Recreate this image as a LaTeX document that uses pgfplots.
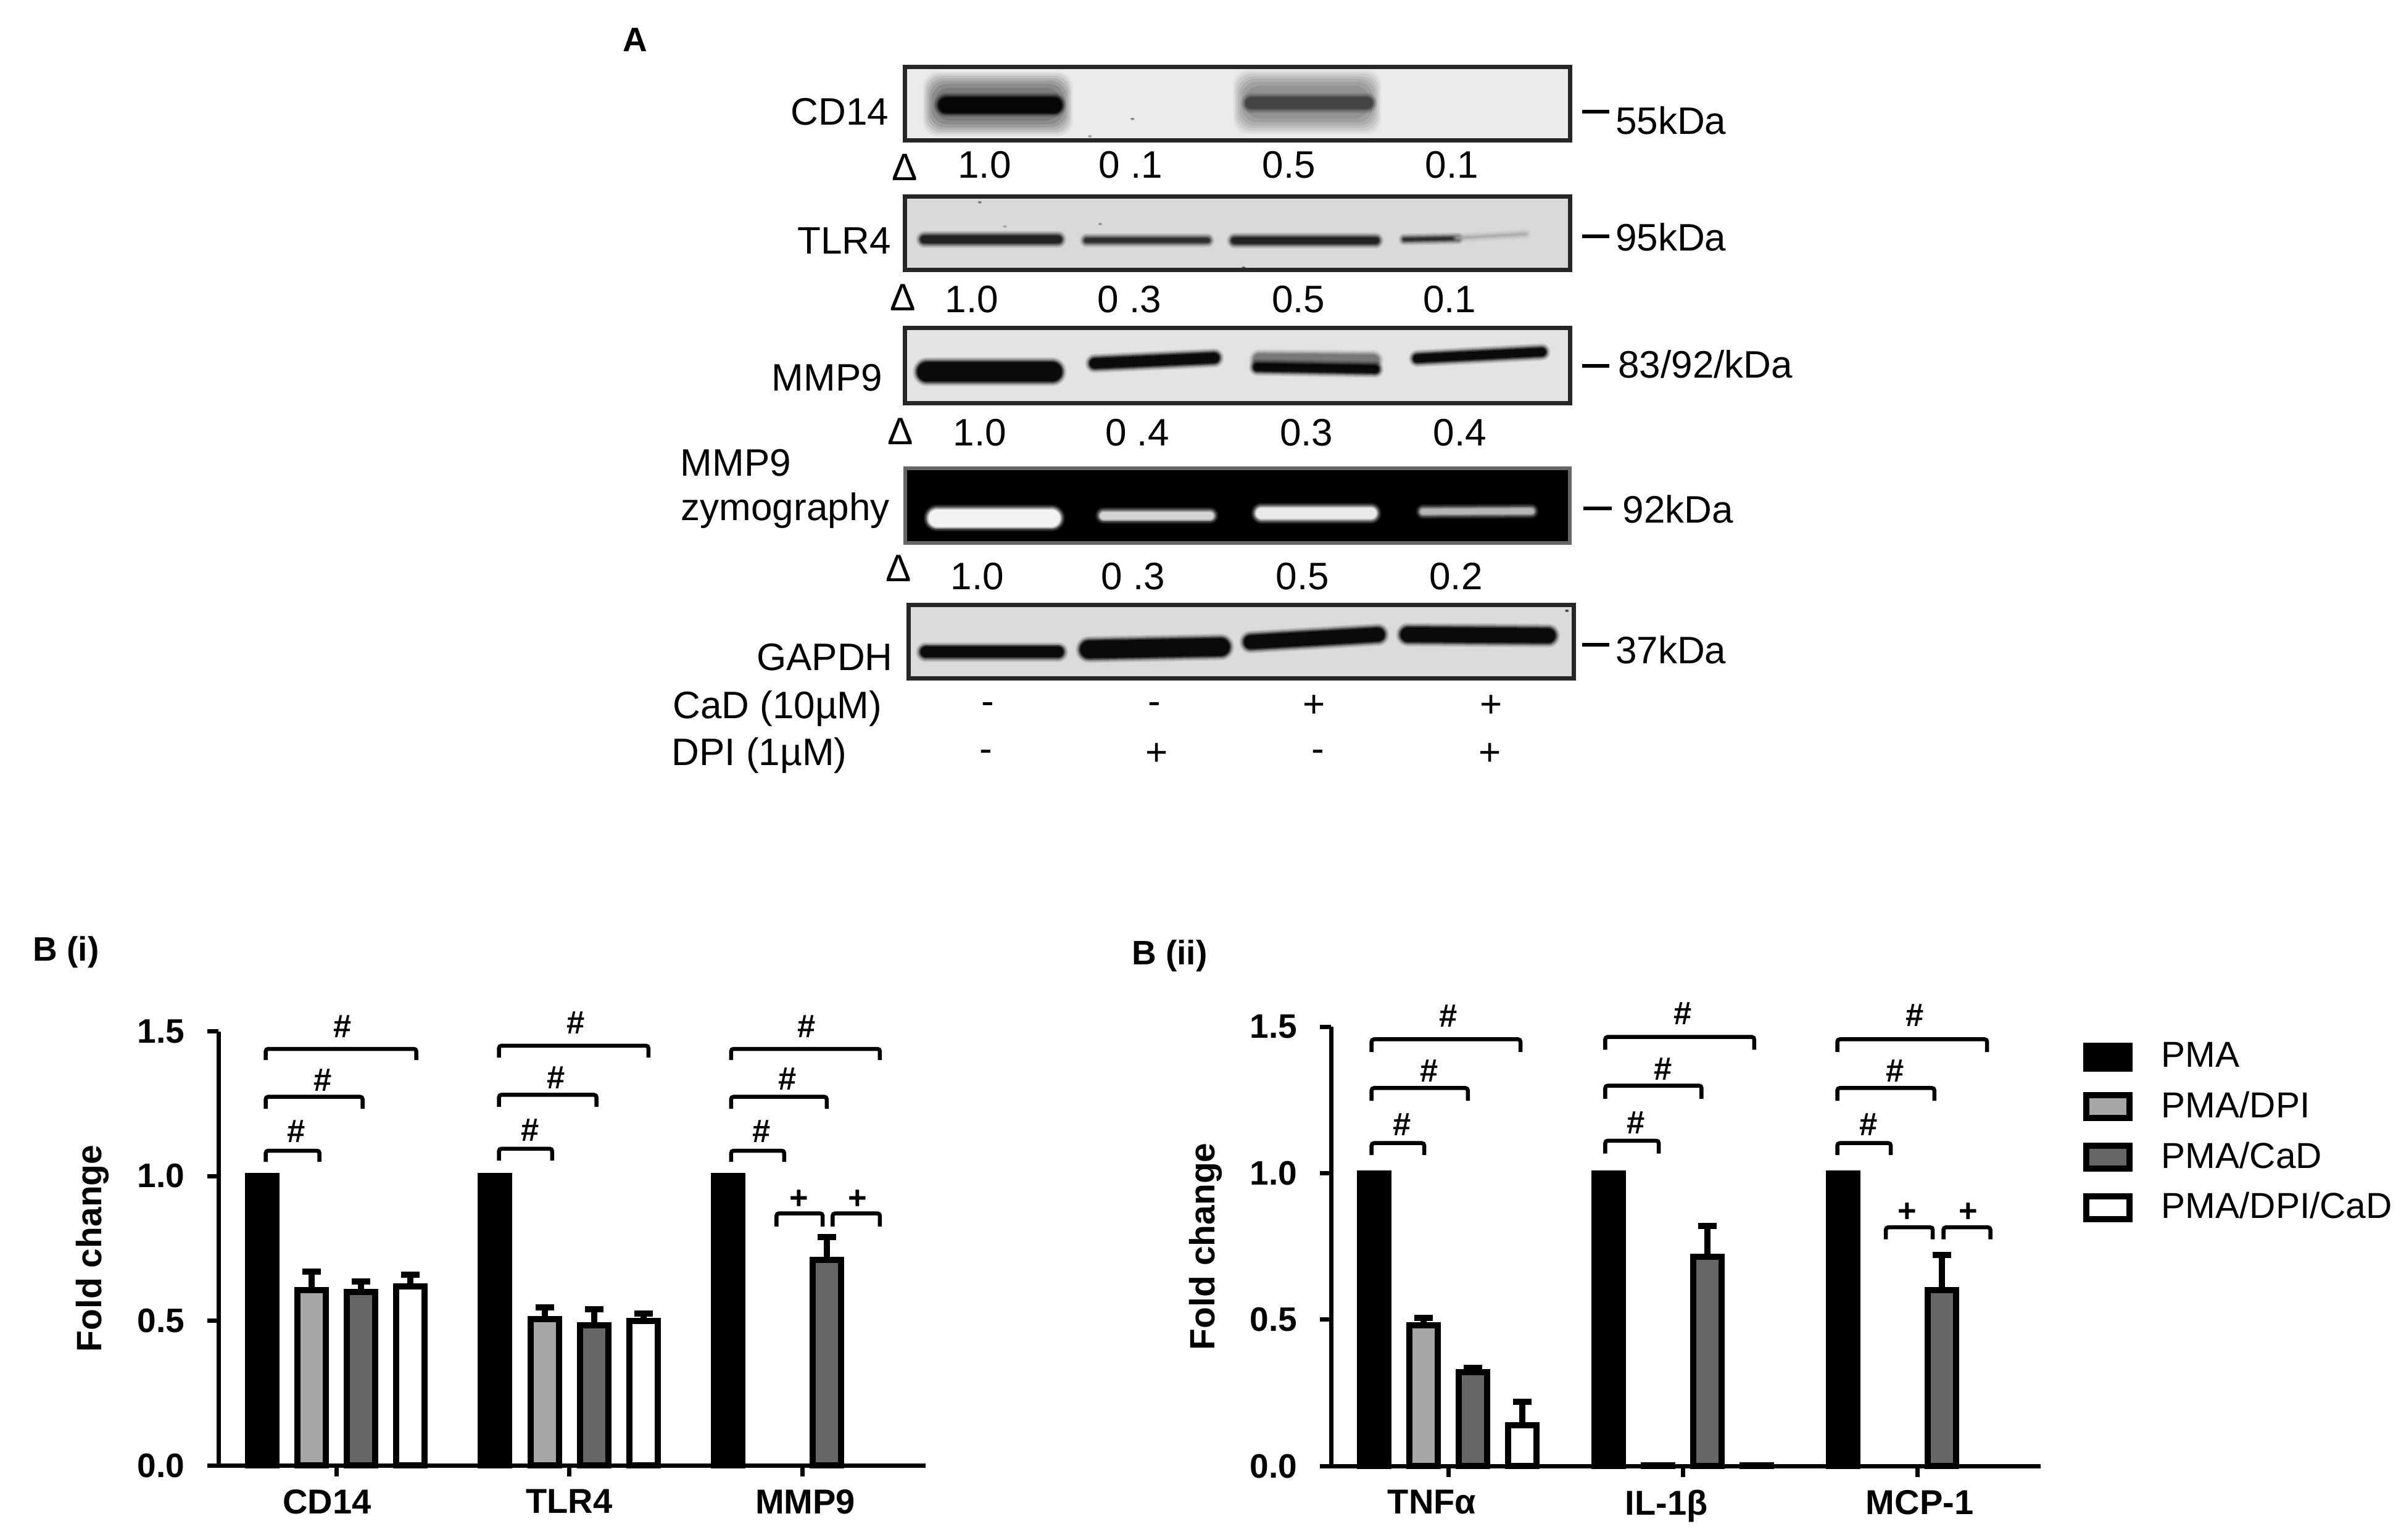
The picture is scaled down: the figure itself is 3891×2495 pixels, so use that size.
\documentclass[border=0pt]{standalone}
\usepackage{fontspec}
\setmainfont{Liberation Sans}
\usepackage{pgfplots}
\pgfplotsset{compat=1.18}
\definecolor{gA}{HTML}{A6A6A6}
\definecolor{gB}{HTML}{666666}
\newcommand\band[6]{%
 \foreach \k/\o in {2.6/.12,1.8/.18,1/.3,.3/.5,-.5/.8}{%
  \draw[line width={max(#5*.16+\k,.1)*1pt},color=#6,opacity=\o,line cap=round]({#1+.31*#5},#2)--({#3-.31*#5},#4);}}
\newcommand\halo[5]{%
 \foreach \i/\o in {0/.06,4/.08,8/.1,13/.12,18/.14,24/.16,32/.18}{%
  \fill[color=#5,opacity=\o,rounded corners=5pt]({#1+.45*\i},{#3+\i})rectangle({#2-.45*\i},{#4-\i});}}
\newcommand\br[4]{\draw[line width=1.3pt,rounded corners=.8pt](#1,#4)--(#1,#3)--(#2,#3)--(#2,#4);}
\newcommand\hh[2]{\node[font=\bfseries\fontsize{10.5}{12}\selectfont,inner sep=0pt] at (#1,#2){\#};}
\newcommand\pp[2]{\node[font=\bfseries\fontsize{10.5}{12}\selectfont,inner sep=0pt] at (#1,#2){+};}
\newcommand\tA[3]{\node[font=\fontsize{12.4}{14}\selectfont,inner sep=0pt] at (#1,#2){#3};}
\newcommand\mk[3]{\draw[line width=1.2pt](#1,#3)--(#2,#3);}
\newcommand\spk[3]{\fill[black!#3](#1,#2)circle[radius=2.5];}
\pgfplotsset{
 fc/.style={
  clip=false,axis lines=left,axis line style={-,line width=1.4pt,black},
  tick style={black,line width=1.4pt},tick align=outside,major tick length=3.6pt,
  ymin=0,ymax=1.5,ytick={0,0.5,1,1.5},xtick={0,1,2},minor tick num=0,
  yticklabel style={font=\bfseries\fontsize{11}{13}\selectfont,/pgf/number format/assume math mode=true,
    /pgf/number format/fixed,/pgf/number format/fixed zerofill,/pgf/number format/precision=1,inner sep=2pt,xshift=-5.2pt},
  xticklabel style={font=\bfseries\fontsize{11.2}{13}\selectfont,inner sep=2pt,yshift=-2pt},
  ylabel={Fold change},ylabel style={font=\bfseries\fontsize{11.4}{13}\selectfont},
 },
 bs/.style={ybar,bar shift=0pt,bar width=9.2pt,draw=black,line width=2pt,
  error bars/y dir=plus,error bars/y explicit,error bars/error mark=|,
  error bars/error bar style={line width=2pt,black},
  error bars/error mark options={mark size=3pt,line width=2pt,black,solid}},
}
\begin{document}
\begin{tikzpicture}[x=.2pt,y=-.2pt]
\path[use as bounding box](0,0)rectangle(3891,2495);

%% Panel B (i)
\begin{axis}[fc,anchor=south west,at={(70.8pt,-475pt)},x=75.5pt,y=93.8pt,
 xmin=-0.506,xmax=2.53,xticklabels={CD14\kern6pt,TLR4,\kern2pt MMP9},
 y label style={at={(axis description cs:-0.178,0.5)},anchor=center}]
\addplot[bs,fill=black] coordinates {(-0.318,1)(0.682,1)(1.682,1)};
\addplot[bs,fill=gA] coordinates {(-0.106,0.605)+-(0,0.065)(0.894,0.505)+-(0,0.04)};
\addplot[bs,fill=gB] coordinates {(0.106,0.60)+-(0,0.035)(1.106,0.485)+-(0,0.055)(2.106,0.71)+-(0,0.08)};
\addplot[bs,fill=white] coordinates {(0.318,0.618)+-(0,0.04)(1.318,0.50)+-(0,0.025)};
\end{axis}

%% Panel B (ii)
\begin{axis}[fc,anchor=south west,at={(431.4pt,-475.2pt)},x=76pt,y=94.9pt,
 xmin=-0.5,xmax=2.526,xticklabels={TNFα\kern10.6pt,IL-1β\kern10.6pt,\kern1.6pt MCP-1},
 y label style={at={(axis description cs:-0.177,0.5)},anchor=center},
 legend cell align=left,
 legend style={at={(rel axis cs:1.059,0.98)},anchor=north west,draw=none,fill=none,inner sep=0pt,
   font=\fontsize{11.7}{13}\selectfont,row sep=2.35pt},
 legend image code/.code={\draw[#1,line width=2pt] (0pt,-3.7pt) rectangle (14pt,3.7pt);\path (21.4pt,0pt);}]
\addplot[bs,fill=black] coordinates {(-0.316,1)(0.684,1)(1.684,1)};
\addplot[bs,fill=gA] coordinates {(-0.105,0.48)+-(0,0.025)(0.895,0.003)};
\addplot[bs,fill=gB] coordinates {(0.105,0.32)+-(0,0.015)(1.105,0.715)+-(0,0.105)(2.105,0.60)+-(0,0.12)};
\addplot[bs,fill=white] coordinates {(0.316,0.14)+-(0,0.08)(1.316,0.003)};
\legend{PMA,PMA/DPI,PMA/CaD,PMA/DPI/CaD}
\end{axis}

%% Annotations B(i), in a frame of 0.957 x 0.647 from (0,1480)
\begin{scope}[shift={(0,1480)},xscale=.957,yscale=.647]
\node[font=\bfseries\fontsize{11}{13}\selectfont,inner sep=0pt,anchor=west] at (55,97){B (i)};
\br{450}{705}{340}{368}\br{450}{614}{460}{490}\br{450}{541}{595}{623}
\hh{580}{283}\hh{547}{418}\hh{502}{547}
\br{845}{1098}{332}{362}\br{845}{1010}{455}{485}\br{845}{935}{590}{620}
\hh{975}{275}\hh{942}{412}\hh{898}{543}
\br{1238}{1490}{340}{368}\br{1238}{1400}{460}{490}\br{1238}{1328}{595}{623}
\hh{1366}{283}\hh{1333}{415}\hh{1290}{547}
\br{1315}{1393}{752}{785}\br{1410}{1490}{752}{785}
\pp{1353}{718}\pp{1452}{718}
\end{scope}

%% Annotations B(ii)
\begin{scope}[shift={(1800,1480)},xscale=1.3335,yscale=.647]
\node[font=\bfseries\fontsize{11}{13}\selectfont,inner sep=0pt,anchor=west] at (25,107){B (ii)};
\br{317}{498}{316}{348}\br{317}{434}{438}{470}\br{317}{381}{576}{606}
\hh{410}{258}\hh{387}{395}\hh{354}{530}
\br{601}{782}{310}{342}\br{601}{718}{432}{465}\br{601}{666}{570}{602}
\hh{695}{252}\hh{671}{390}\hh{638}{525}
\br{883}{1065}{316}{348}\br{883}{1001}{438}{470}\br{883}{948}{576}{606}
\hh{977}{256}\hh{953}{395}\hh{921}{530}
\br{942}{999}{787}{817}\br{1012}{1069}{787}{817}
\pp{968}{750}\pp{1042}{750}
\end{scope}

%% Panel A
\begin{scope}[shift={(950,20)},xscale=1.2755,yscale=.8036]
\node[font=\bfseries\fontsize{11}{13}\selectfont,inner sep=0pt] at (62,55){A};
% CD14
\fill[black!8](405,110)rectangle(1250,258);
\halo{428}{618}{120}{250}{black!80}
\halo{822}{1010}{116}{246}{black!65}
\band{447}{187}{605}{187}{34}{black}
\band{837}{183}{1000}{183}{26}{black!75}
\spk{694}{215}{45}\spk{640}{250}{35}
\draw[black!85,line width=1.4pt](405,110)rectangle(1250,258);
% TLR4
\fill[black!15](405,372)rectangle(1250,520);
\band{424}{458}{605}{458}{19}{black!90}
\band{632}{460}{793}{460}{12}{black!85}
\band{819}{460}{1008}{460}{16}{black!90}
\band{1037}{458}{1110}{456}{8}{black!85}
\band{1105}{455}{1195}{447}{3}{black!35}
\spk{500}{383}{50}\spk{532}{432}{35}\spk{653}{427}{40}\spk{835}{515}{60}
\draw[black!85,line width=1.4pt](405,372)rectangle(1250,520);
% MMP9
\fill[black!11](405,637)rectangle(1250,788);
\band{420}{725}{605}{725}{42}{black}
\band{639}{708}{805}{697}{23}{black}
\band{847}{700}{1008}{702}{26}{black!55}
\band{847}{716}{1008}{720}{18}{black}
\band{1050}{698}{1220}{685}{19}{black}
\draw[black!85,line width=1.4pt](405,637)rectangle(1250,788);
% zymography
\fill[black](405,920)rectangle(1250,1070);
\band{434}{1020}{603}{1020}{38}{white}
\band{652}{1015}{798}{1015}{18}{black!12}
\band{850}{1010}{1005}{1010}{26}{black!3}
\band{1059}{1007}{1205}{1006}{14}{black!25}
\draw[black!60,line width=1.2pt](405,920)rectangle(1250,1070);
% GAPDH
\fill[black!14](410,1195)rectangle(1255,1343);
\band{424}{1290}{607}{1290}{24}{black}
\band{627}{1285}{818}{1280}{38}{black}
\band{835}{1270}{1015}{1255}{30}{black}
\band{1034}{1255}{1232}{1257}{32}{black}
\spk{1246}{1207}{70}
\draw[black!85,line width=1.4pt](410,1195)rectangle(1255,1343);
% labels
\tA{322}{200}{CD14}\tA{328}{460}{TLR4}\tA{306}{737}{MMP9}
\tA{190}{908}{MMP9}\tA{253}{1005}{zymography}\tA{303}{1300}{GAPDH}
\mk{1265}{1300}{200}\tA{1378}{218}{55kDa}
\mk{1265}{1300}{452}\tA{1378}{453}{95kDa}
\mk{1265}{1300}{713}\tA{1422}{710}{83/92/kDa}
\mk{1267}{1303}{1000}\tA{1387}{1002}{92kDa}
\mk{1265}{1300}{1276}\tA{1378}{1286}{37kDa}
\tA{405}{312}{Δ}\tA{506}{308}{1.0}\tA{692}{308}{0 .1}\tA{893}{308}{0.5}\tA{1100}{308}{0.1}
\tA{402}{575}{Δ}\tA{490}{579}{1.0}\tA{690}{579}{0 .3}\tA{905}{579}{0.5}\tA{1097}{579}{0.1}
\tA{399}{845}{Δ}\tA{500}{848}{1.0}\tA{700}{848}{0 .4}\tA{915}{848}{0.3}\tA{1110}{848}{0.4}
\tA{397}{1122}{Δ}\tA{497}{1137}{1.0}\tA{695}{1137}{0 .3}\tA{910}{1137}{0.5}\tA{1105}{1137}{0.2}
\tA{243}{1404}{CaD (10µM)}\tA{510}{1404}{-}\tA{722}{1404}{-}\tA{925}{1400}{+}\tA{1150}{1400}{+}
\tA{220}{1499}{DPI (1µM)}\tA{508}{1499}{-}\tA{725}{1496}{+}\tA{930}{1499}{-}\tA{1148}{1496}{+}
\end{scope}
\end{tikzpicture}
\end{document}
